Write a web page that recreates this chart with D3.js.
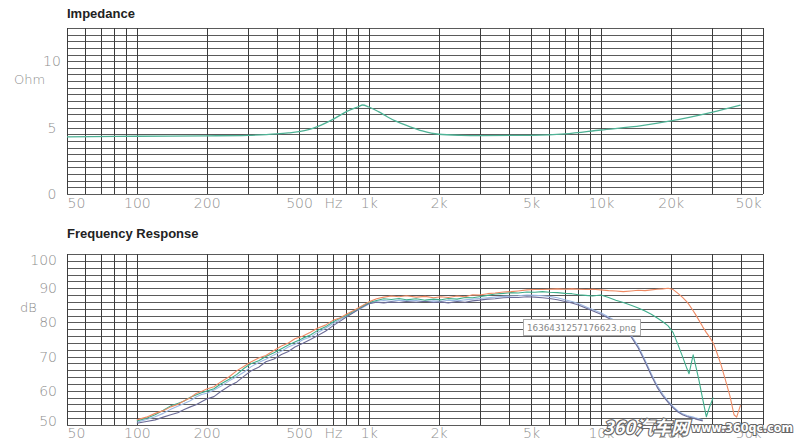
<!DOCTYPE html>
<html><head><meta charset="utf-8">
<script src="https://cdn.jsdelivr.net/npm/d3@7"></script>
<style>
body{margin:0;background:#fff;}
svg{display:block;}
</style></head>
<body>
<svg id="c" width="800" height="446"></svg>
<script>
// ---------- data ----------
const xTickValues = [50, 100, 200, 500, 700, 1000, 2000, 5000, 10000, 20000, 50000];
const xTickLabels = ["50", "100", "200", "500", "Hz", "1k", "2k", "5k", "10k", "20k", "50k"];
const gridFreqs = [60,70,80,90,100,200,300,400,500,600,700,800,900,1000,2000,3000,4000,5000,6000,7000,8000,9000,10000,20000,30000,40000];
const ohmTicks = [0, 5, 10];
const dbTicks = [50, 60, 70, 80, 90, 100];

const impFreq = [50,100,200,300,400,450,500,550,600,700,800,900,940,1000,1100,1200,1300,1500,1700,2000,2500,3000,5000,7000,10000,15000,20000,30000,40000];
const impOhm  = [4.30,4.35,4.38,4.42,4.52,4.60,4.70,4.85,5.07,5.62,6.20,6.57,6.70,6.55,6.20,5.82,5.50,5.07,4.75,4.50,4.42,4.40,4.42,4.52,4.82,5.15,5.50,6.15,6.70];

const frFreq = [100,110,120,130,140,150,160,170,180,190,200,215,230,250,270,290,310,335,360,390,420,450,480,520,560,600,650,700,750,800,860,920,1000,1080,1160,1250,1350,1450,1600,1750,1900,2050,2200,2400,2600,2800,3000,3250,3500,3800,4100,4400,4800,5200,5600,6000,6500,7000,7500,8000,8600,9200,10000,10800,11600,12500,13500,14500,15500,16500,17500,18500,19500,20500,21500,22500,23500,24000,25000,25500,26500,27500,28500,29500,30500,31500,33000,34500,36000,37500,38500,40000];

const frOrange = [51.5,52.3,53.4,54.2,55.3,56.0,57.1,58.0,59.2,59.8,60.5,61.2,62.6,64.1,65.9,67.2,68.4,69.6,70.3,71.8,73.1,74.0,75.2,76.0,77.1,78.3,79.2,80.6,81.3,82.4,83.5,84.6,86.0,86.9,87.4,87.7,87.5,87.8,87.4,87.6,87.2,87.5,87.3,87.7,87.5,88.1,88.0,88.4,88.6,88.9,89.0,89.2,89.5,89.6,89.6,89.7,89.8,89.7,89.8,89.7,89.6,89.7,89.5,89.3,89.2,89.0,89.2,89.4,89.3,89.5,89.7,89.8,90.0,89.6,88.5,87.3,86.0,85.2,83.4,82.5,80.6,78.7,77.0,75.6,74.0,71.5,67.5,63.0,58.5,53.0,52.3,55.8];

const frGreen = [51.2,52.0,53.0,54.3,55.6,56.3,57.0,58.1,58.8,59.4,59.9,60.6,62.0,63.4,64.8,66.6,67.9,68.8,70.0,71.1,72.3,73.4,74.3,75.4,76.3,77.6,78.7,80.1,81.2,82.0,83.3,84.4,85.8,86.4,86.9,86.7,87.0,86.6,86.9,86.5,86.8,86.6,87.0,86.8,87.3,87.2,87.5,87.9,88.3,88.5,88.7,88.6,88.9,88.8,89.0,88.8,88.7,88.5,88.4,88.1,87.9,87.7,88.0,87.3,86.5,85.8,85.0,84.2,83.3,82.4,81.3,80.2,79.0,77.0,73.5,70.0,66.5,65.0,70.5,68.0,63.0,57.5,52.4,55.5,58.0,null,null,null,null,null,null,null];

const frBlue = [50.8,51.6,52.4,53.4,54.6,55.5,56.3,57.1,58.2,58.9,59.3,60.2,61.3,62.9,64.2,65.5,67.0,68.3,69.2,70.5,71.6,72.8,73.6,74.9,75.7,77.0,78.3,79.6,80.8,81.9,83.0,84.0,85.4,86.2,86.4,86.2,86.5,86.3,86.4,86.1,86.3,86.2,86.5,86.3,86.6,86.8,87.0,87.2,87.4,87.6,87.7,87.8,88.0,87.9,87.8,87.6,87.2,86.6,86.1,85.5,84.6,83.8,82.8,81.6,80.4,78.8,76.2,73.0,69.0,65.0,61.5,59.0,57.0,55.4,54.1,53.3,52.8,52.6,52.3,52.1,51.8,51.5,null,null,null,null,null,null,null,null,null,null];

const frPurple = [50.5,51.0,51.5,52.3,53.0,53.6,54.5,55.3,55.9,56.8,57.6,58.3,59.8,61.4,62.6,64.3,65.8,66.9,68.5,69.3,70.6,71.5,72.8,73.9,75.0,76.1,77.4,79.0,80.3,81.6,82.9,84.2,85.5,85.9,85.7,86.0,85.8,86.1,85.9,86.2,85.8,86.0,85.7,86.1,85.9,86.3,86.5,86.8,86.9,87.2,87.3,87.3,87.5,87.4,87.2,87.0,86.6,86.1,85.7,85.1,84.2,83.4,82.4,81.2,80.0,78.4,75.8,72.5,68.5,64.5,61.0,58.5,56.6,55.0,53.8,53.0,52.5,52.3,52.0,51.8,51.5,51.2,null,null,null,null,null,null,null,null,null,null];

const seriesNames = ["blue", "purple", "green", "orange"];
const seriesValues = [frBlue, frPurple, frGreen, frOrange];
const seriesColors = ["#9bb8e3", "#6c6c98", "#3fae8c", "#ef8a63"];

// ---------- drawing ----------
const svg = d3.select("#c");
const x = d3.scaleLog().domain([50, 50000]).range([67, 763]);
const yTop = d3.scaleLinear().domain([0, 12.5]).range([194, 28]);
const yBot = d3.scaleLinear().domain([50, 100]).range([425, 254]);

const numFont = "'DejaVu Sans', sans-serif";

function drawPanel(y, yStep, title, titleY, unit, unitY) {
  const g = svg.append("g");
  const [d0, d1] = y.domain();
  const hVals = d3.range(d0, d1 + yStep / 2, yStep);
  g.selectAll("line.h").data(hVals).join("line")
    .attr("x1", x.range()[0]).attr("x2", x.range()[1])
    .attr("y1", d => Math.round(y(d)) + 0.5).attr("y2", d => Math.round(y(d)) + 0.5)
    .attr("stroke", "#5a5a5a").attr("stroke-width", 1);
  g.selectAll("line.v").data([50].concat(gridFreqs, [50000])).join("line")
    .attr("x1", d => Math.round(x(d)) + 0.5).attr("x2", d => Math.round(x(d)) + 0.5)
    .attr("y1", y.range()[1]).attr("y2", y.range()[0])
    .attr("stroke", "#3c3c3c").attr("stroke-width", 1);
  svg.append("text").attr("x", 67).attr("y", titleY)
    .attr("font-family", "'Liberation Sans', Arial, sans-serif").attr("font-weight", "bold")
    .attr("font-size", 13).attr("fill", "#222").text(title);
  svg.append("text").attr("x", unit === "Ohm" ? 14 : 20).attr("y", unitY)
    .attr("font-family", numFont).attr("font-weight", 200)
    .attr("font-size", 13).attr("fill", "#8a8a8a").text(unit);
  return g;
}

drawPanel(yTop, 0.5, "Impedance", 18, "Ohm", 84);
drawPanel(yBot, 2, "Frequency Response", 238, "dB", 312);

function xAxis(yPos, pad) {
  const ax = d3.axisBottom(x).tickValues(xTickValues)
    .tickFormat((d, i) => xTickLabels[i]).tickSize(0).tickPadding(pad);
  const g = svg.append("g").attr("transform", `translate(0,${yPos})`).call(ax);
  g.select(".domain").remove();
  g.selectAll("text").attr("font-family", numFont).attr("font-weight", 200)
    .attr("font-size", 14).attr("fill", "#8f8f8f")
    .attr("text-anchor", (d, i) => i === 0 ? "start" : (i === xTickValues.length - 1 ? "end" : "middle"))
    .attr("dx", (d, i) => i === xTickValues.length - 1 ? -2 : 0);
}
xAxis(194, 4);
xAxis(425, 3);

{
  const ax = d3.axisLeft(yTop).tickValues(ohmTicks).tickSize(0).tickPadding(0);
  const g = svg.append("g").attr("transform", "translate(52,0)").call(ax);
  g.select(".domain").remove();
  g.selectAll("text").attr("font-family", numFont).attr("font-weight", 200)
    .attr("font-size", 14).attr("fill", "#8f8f8f").attr("text-anchor", "middle").attr("x", 0);
}
{
  const ax = d3.axisLeft(yBot).tickValues(dbTicks).tickSize(0).tickPadding(0);
  const g = svg.append("g").attr("transform", "translate(57,0)").call(ax);
  g.select(".domain").remove();
  g.selectAll("text").attr("font-family", numFont).attr("font-weight", 200)
    .attr("font-size", 14).attr("fill", "#8f8f8f").attr("text-anchor", "end").attr("x", 0)
    .attr("transform", d => d === 100 ? "translate(0,6)" : (d === 50 ? "translate(0,-4)" : null));
}

const impLine = d3.line().x((d, i) => x(impFreq[i])).y(d => yTop(d)).curve(d3.curveMonotoneX);
svg.append("path").attr("d", impLine(impOhm)).attr("fill", "none")
  .attr("stroke", "#4fb396").attr("stroke-width", 1.3);

const frLine = d3.line().defined(d => d != null)
  .x((d, i) => x(frFreq[i])).y(d => yBot(d));
seriesValues.forEach((vals, k) => {
  svg.append("path").attr("d", frLine(vals)).attr("fill", "none")
    .attr("stroke", seriesColors[k]).attr("stroke-width", 1.1).attr("stroke-linejoin", "round");
});

// file-name tooltip overlay
svg.append("rect").attr("x", 523.5).attr("y", 319.5).attr("width", 117).attr("height", 16)
  .attr("fill", "#fff").attr("stroke", "#aaa");
svg.append("text").attr("x", 527).attr("y", 331).attr("font-family", "'DejaVu Sans', sans-serif")
  .attr("font-size", 9.5).attr("fill", "#888")
  .attr("textLength", 109).attr("lengthAdjust", "spacingAndGlyphs").text("1636431257176623.png");

// watermark
svg.append("text").attr("x", 603).attr("y", 434)
  .attr("font-family", "'Noto Sans CJK SC', sans-serif").attr("font-weight", "bold").attr("font-style", "italic")
  .attr("font-size", 18).attr("fill", "#fff").attr("stroke", "#666").attr("stroke-width", 2.2)
  .attr("paint-order", "stroke")
  .attr("textLength", 86).attr("lengthAdjust", "spacingAndGlyphs").text("360汽车网");
svg.append("text").attr("x", 691).attr("y", 432)
  .attr("font-family", "'DejaVu Sans', sans-serif").attr("font-weight", "bold")
  .attr("font-size", 12).attr("fill", "#fff").attr("stroke", "#666").attr("stroke-width", 2)
  .attr("paint-order", "stroke")
  .attr("textLength", 102).attr("lengthAdjust", "spacingAndGlyphs").text("www.360qc.com");
</script>
</body></html>
